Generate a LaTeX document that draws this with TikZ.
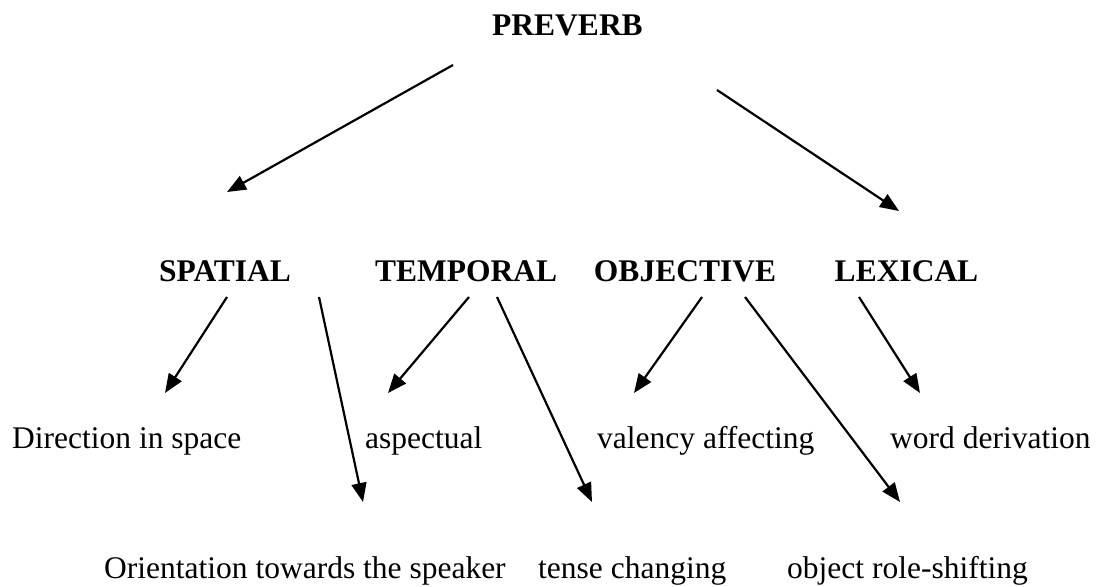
\documentclass[tikz,border=0pt]{standalone}
\usepackage{fontspec}
\setmainfont{Liberation Serif}
\usetikzlibrary{arrows.meta}

\tikzset{
  kind/.style={anchor=base,inner sep=0pt,font=\fontsize{31.5}{36}\selectfont\bfseries},
  use/.style={anchor=base west,inner sep=0pt,font=\fontsize{31.5}{36}\selectfont},
  branch/.style={-{Triangle[length=19pt,width=15pt]},line width=2.2pt}
}

\begin{document}
\begin{tikzpicture}[x=1pt,y=-1pt]
  \useasboundingbox (0,0) rectangle (1097,586);

  % top
  \node[kind] (preverb) at (567.5,36) {PREVERB};

  % second level
  \node[kind] (spatial) at (225,281) {SPATIAL};
  \node[kind] (temporal) at (466,281) {TEMPORAL};
  \node[kind] (objective) at (685,281) {OBJECTIVE};
  \node[kind] (lexical) at (906.5,281) {LEXICAL};

  % third level
  \node[use] (direction) at (12,448) {Direction in space};
  \node[use] (aspectual) at (365,448) {aspectual};
  \node[use] (valency) at (597,448) {valency affecting};
  \node[use] (derivation) at (890,448) {word derivation};
  \node[use] (orientation) at (104,578) {Orientation towards the speaker};
  \node[use] (tense) at (538,578) {tense changing};
  \node[use] (roleshift) at (787,578) {object role-shifting};

  % arrow ends
  \coordinate (pvL) at (453,65);
  \coordinate (pvR) at (717,90);
  \coordinate (spIn) at (227,192);
  \coordinate (lxIn) at (899,211);
  \coordinate (spL) at (227,297);
  \coordinate (spR) at (319,297);
  \coordinate (tmL) at (469,297);
  \coordinate (tmR) at (497,297);
  \coordinate (obL) at (702,297);
  \coordinate (obR) at (745,297);
  \coordinate (lx) at (859,297);
  \coordinate (dirIn) at (165,393);
  \coordinate (oriIn) at (363,502);
  \coordinate (aspIn) at (388,393);
  \coordinate (tenIn) at (592,502);
  \coordinate (valIn) at (634,393);
  \coordinate (rolIn) at (900,502);
  \coordinate (derIn) at (920,393);

  \draw[branch] (pvL) -- (spIn);
  \draw[branch] (pvR) -- (lxIn);
  \draw[branch] (spL) -- (dirIn);
  \draw[branch] (spR) -- (oriIn);
  \draw[branch] (tmL) -- (aspIn);
  \draw[branch] (tmR) -- (tenIn);
  \draw[branch] (obL) -- (valIn);
  \draw[branch] (obR) -- (rolIn);
  \draw[branch] (lx) -- (derIn);
\end{tikzpicture}
\end{document}
